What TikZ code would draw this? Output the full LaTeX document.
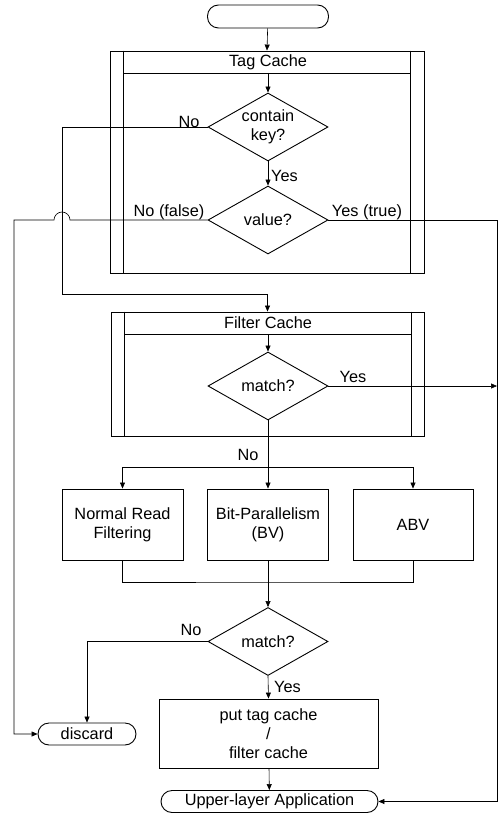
\documentclass[tikz,border=0pt]{standalone}
\usepackage{fontspec}
\setmainfont{Liberation Sans}
\usetikzlibrary{shapes.geometric,arrows.meta}
\begin{document}
\begin{tikzpicture}[x=1pt,y=-1pt,
  every node/.style={font=\fontsize{16.3}{19}\selectfont},
  box/.style={draw, line width=0.9pt, inner sep=0pt, align=center},
  term/.style={box, rounded corners=11pt},
  dec/.style={draw, line width=0.9pt, diamond, aspect=1.76, inner sep=0pt,
              minimum width=120pt, minimum height=68pt, align=center},
  conn/.style={line width=0.6pt, -{Triangle[length=6pt,width=5pt]}},
  link/.style={line width=0.6pt},
  lbl/.style={inner sep=0pt},
  frame/.style={line width=0.9pt}
]
\useasboundingbox (0,0) rectangle (499,813);

% start
\node[term, minimum width=121pt, minimum height=23pt] (start) at (268,16.5) {};

% Tag Cache container
\node[box, minimum width=314pt, minimum height=222pt] (tc) at (267,162) {};
\draw[frame] ([xshift=14pt]tc.north west) -- ([xshift=14pt]tc.south west)
             ([xshift=-14pt]tc.north east) -- ([xshift=-14pt]tc.south east);
\draw[frame] (124,73) -- (410,73);
\node (tct) at (268,62) {Tag Cache};
\coordinate (tch) at (268,73);

\node[dec] (d1) at (268,127) {contain\\key?};
\node[dec] (d2) at (268,220) {value?};

% Filter Cache container
\node[box, minimum width=313pt, minimum height=124pt] (fc) at (267.5,374) {};
\draw[frame] ([xshift=14pt]fc.north west) -- ([xshift=14pt]fc.south west)
             ([xshift=-13pt]fc.north east) -- ([xshift=-13pt]fc.south east);
\draw[frame] (125,334) -- (411,334);
\node (fct) at (268,323) {Filter Cache};
\coordinate (fch) at (268,334);

\node[dec] (d3) at (268,386) {match?};

% method boxes
\node[box, minimum width=121pt, minimum height=71pt] (b1) at (122.5,524.5) {Normal Read\\Filtering};
\node[box, minimum width=121pt, minimum height=71pt] (b2) at (268,524.5) {Bit-Parallelism\\(BV)};
\node[box, minimum width=120pt, minimum height=71pt] (b3) at (413,524.5) {ABV};

\node[dec] (d4) at (268,641.5) {match?};

\node[term, minimum width=98pt, minimum height=22pt] (dis) at (87,734) {discard};
\node[box, minimum width=219pt, minimum height=69pt] (pb) at (268.5,733.5) {put tag cache\\/\\filter cache};
\node[term, minimum width=217pt, minimum height=22pt] (app) at (269.5,801.5) {Upper-layer Application};

% coordinates
\coordinate (k1) at (62,294);
\coordinate (j3) at (497,386);
\coordinate (br) at (268,467);
\coordinate (mg) at (268,582);

% connectors
\draw[conn] (start) -- (tc.north);
\draw[conn] (tch) -- (d1.north);
\draw[conn] (d1.south) -- (d2.north);
\draw[conn] (d1.west) -| (k1) -| (fc.north);
\draw[conn] (d2.west) -- (70,220) arc[start angle=0, end angle=180, radius=8pt]
            -- (14,220) |- (dis.west);
\draw[conn] (d2.east) -- (497,220) |- (app.east);
\draw[conn] (fch) -- (d3.north);
\draw[conn] (d3.east) -- (j3);
\draw[conn] (d3.south) -- (b2.north);
\draw[conn] (br) -| (b1.north);
\draw[conn] (br) -| (b3.north);
\draw[link] (b1.south) |- (mg) -| (b3.south);
\draw[link] (b2.south) -- (mg);
\draw[conn] (mg) -- (d4.north);
\draw[conn] (d4.west) -| (dis.north);
\draw[conn] (d4.south) -- (pb.north);
\draw[conn] (pb) -- (app);

% labels
\node[lbl] (l1) at (189,122) {No};
\node[lbl, anchor=west] (l2) at (271,176) {Yes};
\node[lbl] (l3) at (169,212) {No (false)};
\node[lbl] (l4) at (367,212) {Yes (true)};
\node[lbl] (l5) at (353,377) {Yes};
\node[lbl] (l6) at (248,455) {No};
\node[lbl] (l7) at (191,630) {No};
\node[lbl, anchor=west] (l8) at (274,687) {Yes};
\end{tikzpicture}
\end{document}
